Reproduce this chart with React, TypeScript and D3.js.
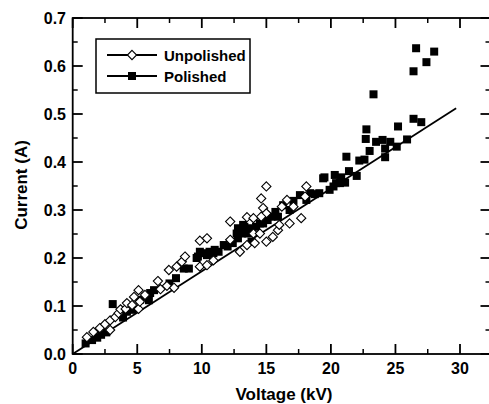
import React from "react";
import * as d3 from "d3";

const unpolished: [number, number][] = [
  [1.1, 0.035], [1.6, 0.046], [2.1, 0.054], [2.5, 0.062], [2.9, 0.07], [2.9, 0.05],
  [3.3, 0.077], [3.55, 0.085], [3.7, 0.093], [4.1, 0.094], [4.2, 0.106], [4.6, 0.102],
  [4.75, 0.119], [5.1, 0.133], [5.1, 0.094], [5.2, 0.109], [5.6, 0.123], [6.6, 0.152],
  [6.8, 0.135], [7.3, 0.142], [7.45, 0.175], [7.85, 0.138], [8.05, 0.182], [8.45, 0.192],
  [8.7, 0.203], [9.85, 0.236], [10.4, 0.241], [9.85, 0.182], [10.4, 0.185], [10.9, 0.195],
  [12.2, 0.276], [12.2, 0.238], [12.95, 0.213], [13.5, 0.227], [13.5, 0.285], [14.0, 0.283],
  [14.1, 0.231], [14.0, 0.251], [14.5, 0.251], [14.6, 0.324], [15.0, 0.349], [14.75, 0.304],
  [15.0, 0.293], [14.6, 0.286], [15.0, 0.234], [15.5, 0.244], [15.9, 0.258], [16.0, 0.269],
  [16.2, 0.307], [16.6, 0.321], [16.8, 0.272], [17.1, 0.307], [17.7, 0.283], [18.0, 0.328],
  [18.1, 0.349],
];

const polished: [number, number][] = [
  [1.0, 0.022], [1.5, 0.029], [1.9, 0.034], [2.2, 0.04], [2.6, 0.045], [3.1, 0.104],
  [3.9, 0.076], [3.9, 0.085], [4.2, 0.088], [4.6, 0.092], [5.2, 0.113], [5.6, 0.119],
  [5.9, 0.112], [6.0, 0.127], [6.3, 0.133], [7.5, 0.147], [8.0, 0.158], [8.6, 0.178],
  [9.0, 0.178], [9.6, 0.2], [9.7, 0.203], [9.85, 0.213], [10.1, 0.21], [10.4, 0.206],
  [10.6, 0.213], [10.9, 0.21], [11.0, 0.217], [11.3, 0.213], [11.7, 0.227], [12.0, 0.224],
  [12.4, 0.231], [12.7, 0.251], [12.8, 0.241], [12.8, 0.262], [13.1, 0.251], [13.2, 0.269],
  [13.3, 0.265], [13.6, 0.251], [13.6, 0.262], [13.85, 0.258], [13.85, 0.234], [14.2, 0.265],
  [14.5, 0.272], [14.75, 0.272], [15.1, 0.279], [15.4, 0.286], [15.7, 0.296], [15.9, 0.286],
  [16.3, 0.31], [16.8, 0.3], [17.1, 0.319], [17.6, 0.331], [18.1, 0.321], [18.4, 0.335],
  [18.75, 0.333], [19.1, 0.335], [19.4, 0.366], [19.5, 0.368], [19.9, 0.342], [20.2, 0.349],
  [20.3, 0.373], [20.4, 0.356], [20.7, 0.356], [20.8, 0.368], [21.1, 0.357], [21.2, 0.411],
  [21.4, 0.381], [22.0, 0.371], [22.2, 0.403], [22.6, 0.405], [22.7, 0.448], [22.75, 0.468],
  [23.0, 0.423], [23.3, 0.541], [23.5, 0.442], [24.0, 0.446], [24.2, 0.428], [24.2, 0.41],
  [24.6, 0.442], [25.1, 0.432], [25.2, 0.474], [25.9, 0.447], [26.4, 0.589], [26.4, 0.49],
  [26.6, 0.637], [27.0, 0.483], [27.4, 0.608], [28.0, 0.63],
];

const fitLine: [number, number][] = [[0, 0], [29.7, 0.512]];

const xTicks = [0, 5, 10, 15, 20, 25, 30];
const xMinor = [2.5, 7.5, 12.5, 17.5, 22.5, 27.5, 32.5];
const yTicks = [0, 0.1, 0.2, 0.3, 0.4, 0.5, 0.6, 0.7];
const yMinor = [0.05, 0.15, 0.25, 0.35, 0.45, 0.55, 0.65];

const xTitle = "Voltage (kV)";
const yTitle = "Current (A)";
const legendLabels = ["Unpolished", "Polished"];

const W = 489;
const H = 404;
const L = 72.7, R = 490.5, T = 18, B = 354;
const FONT = "'Liberation Sans', Arial, Helvetica, sans-serif";

export default function App() {
  const x = d3.scaleLinear().domain([0, 30]).range([L, 460]);
  const y = d3.scaleLinear().domain([0, 0.7]).range([B, T]);
  const line = d3.line<[number, number]>().x(d => x(d[0])).y(d => y(d[1]));
  const diamond = d3.symbol().type(d3.symbolDiamond2).size(54)() as string;
  const sq = 8;
  const major = 10, minor = 5;

  return (
    <svg width={W} height={H} style={{ position: "absolute", left: 0, top: 0, display: "block" }}>
      <rect x={0} y={0} width={W} height={H} fill="#fff" />
      {/* frame */}
      <rect x={L} y={T} width={R - L} height={B - T} fill="none" stroke="#000" strokeWidth={1.8} />
      {/* x ticks */}
      {xTicks.map(t => (
        <g key={"xt" + t}>
          <line x1={x(t)} x2={x(t)} y1={B} y2={B - major} stroke="#000" strokeWidth={1.8} />
          <line x1={x(t)} x2={x(t)} y1={T} y2={T + major} stroke="#000" strokeWidth={1.8} />
          <text x={x(t)} y={374} textAnchor="middle" fontFamily={FONT} fontWeight="bold" fontSize={16}>{t}</text>
        </g>
      ))}
      {xMinor.filter(t => x(t) < R - 1).map(t => (
        <g key={"xm" + t}>
          <line x1={x(t)} x2={x(t)} y1={B} y2={B - minor} stroke="#000" strokeWidth={1.5} />
          <line x1={x(t)} x2={x(t)} y1={T} y2={T + minor} stroke="#000" strokeWidth={1.5} />
        </g>
      ))}
      {/* y ticks */}
      {yTicks.map(t => (
        <g key={"yt" + t}>
          <line x1={L} x2={L + major} y1={y(t)} y2={y(t)} stroke="#000" strokeWidth={1.8} />
          <line x1={R} x2={R - major} y1={y(t)} y2={y(t)} stroke="#000" strokeWidth={1.8} />
          <text x={66} y={y(t) + 5.5} textAnchor="end" fontFamily={FONT} fontWeight="bold" fontSize={16}>{t.toFixed(1)}</text>
        </g>
      ))}
      {yMinor.map(t => (
        <g key={"ym" + t}>
          <line x1={L} x2={L + minor} y1={y(t)} y2={y(t)} stroke="#000" strokeWidth={1.5} />
          <line x1={R} x2={R - minor} y1={y(t)} y2={y(t)} stroke="#000" strokeWidth={1.5} />
        </g>
      ))}
      {/* fit line */}
      <path d={line(fitLine) as string} fill="none" stroke="#000" strokeWidth={1.8} />
      {/* polished */}
      {polished.map((d, i) => (
        <rect key={"p" + i} x={x(d[0]) - sq / 2} y={y(d[1]) - sq / 2} width={sq} height={sq} fill="#000" />
      ))}
      {/* unpolished */}
      {unpolished.map((d, i) => (
        <path key={"u" + i} d={diamond} transform={`translate(${x(d[0])},${y(d[1])})`} fill="#fff" stroke="#000" strokeWidth={1.1} />
      ))}
      {/* legend */}
      <rect x={96} y={39} width={154} height={54} fill="#fff" stroke="#000" strokeWidth={1.5} />
      <line x1={107} x2={157} y1={55} y2={55} stroke="#000" strokeWidth={1.8} />
      <path d={diamond} transform="translate(132,55)" fill="#fff" stroke="#000" strokeWidth={1.1} />
      <text x={164} y={60.5} fontFamily={FONT} fontWeight="bold" fontSize={15}>{legendLabels[0]}</text>
      <line x1={107} x2={157} y1={76} y2={76} stroke="#000" strokeWidth={1.8} />
      <rect x={132 - sq / 2} y={76 - sq / 2} width={sq} height={sq} fill="#000" />
      <text x={164} y={81.5} fontFamily={FONT} fontWeight="bold" fontSize={15}>{legendLabels[1]}</text>
      {/* axis titles */}
      <text x={284} y={400} textAnchor="middle" fontFamily={FONT} fontWeight="bold" fontSize={17}>{xTitle}</text>
      <text transform={`translate(27,185) rotate(-90)`} textAnchor="middle" fontFamily={FONT} fontWeight="bold" fontSize={17}>{yTitle}</text>
    </svg>
  );
}
